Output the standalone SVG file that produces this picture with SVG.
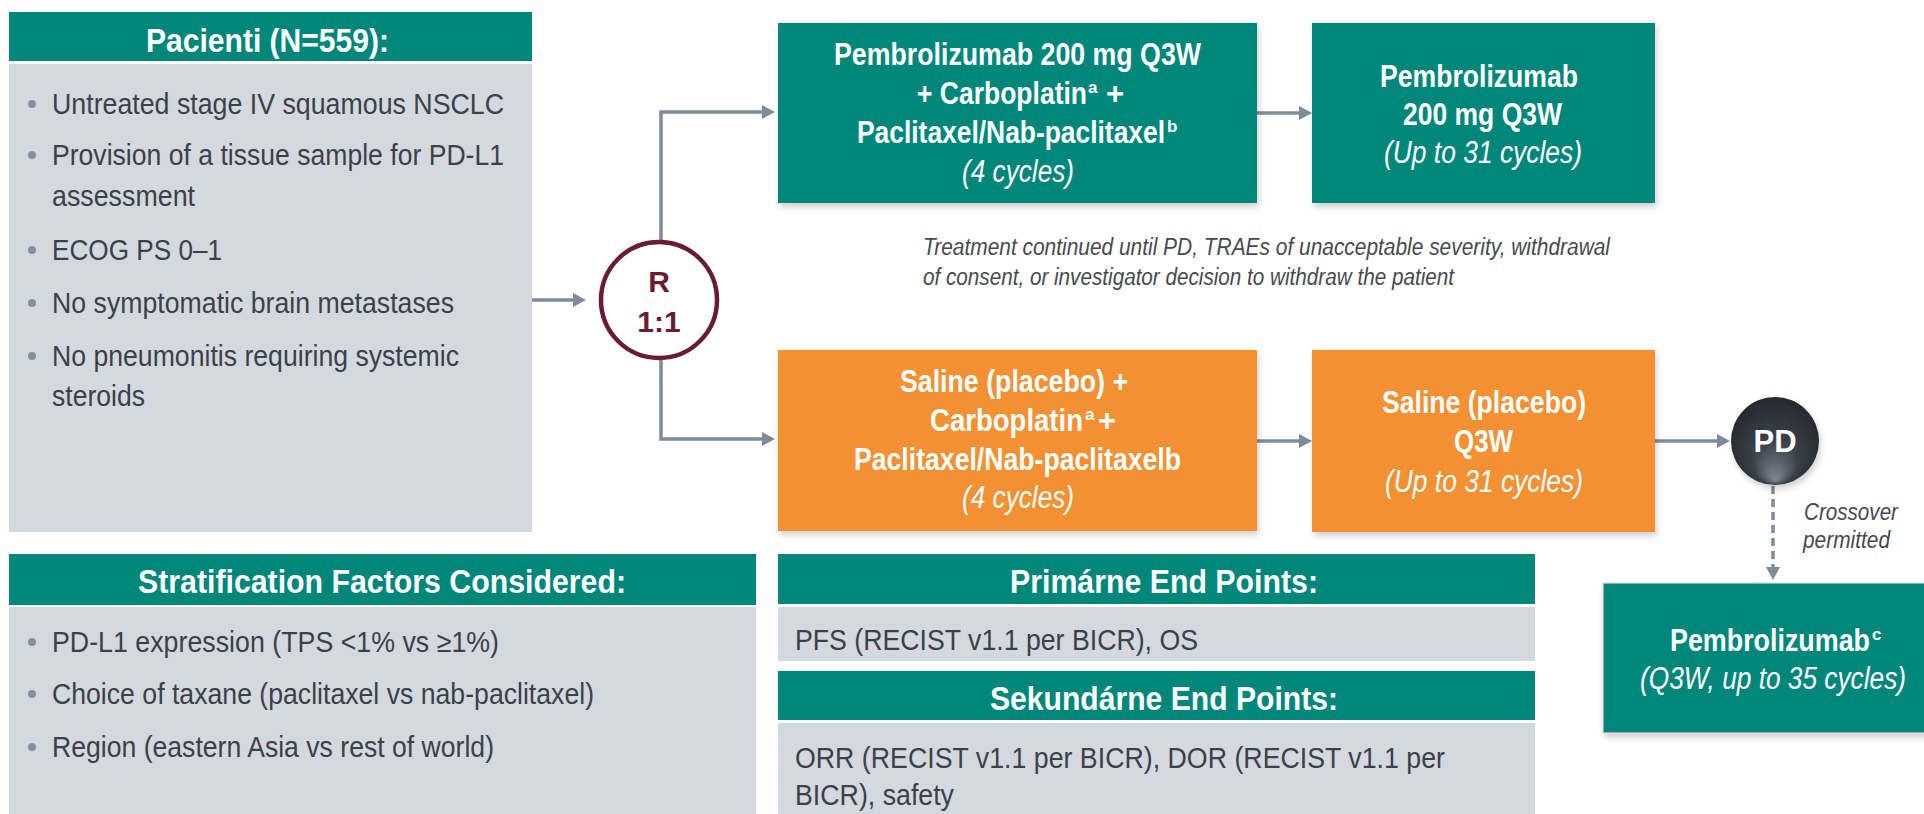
<svg xmlns="http://www.w3.org/2000/svg" width="1924" height="814" viewBox="0 0 1924 814">
  <defs>
    <style>
      text { font-family: 'Liberation Sans', Arial, sans-serif; }
      .hd { font-weight: bold; font-size: 34px; fill: #ffffff; }
      .bt { font-weight: bold; font-size: 31px; fill: #ffffff; }
      .it { font-style: italic; font-size: 31px; fill: #ffffff; }
      .sup { font-weight: bold; font-size: 17px; fill: #ffffff; }
      .body { font-size: 29px; fill: #3c4148; }
      .note { font-style: italic; font-size: 23px; fill: #454a50; }
      .rnd { font-weight: bold; font-size: 30px; fill: #6a1c36; }
      .green { fill: #00877a; }
      .orange { fill: #f39030; }
      .panel { fill: #d3d9df; }
      .dot { fill: #8490a0; }
      .conn { fill: none; stroke: #7d8c9a; stroke-width: 3.5; }
    </style>
    <marker id="arrow" markerUnits="userSpaceOnUse" markerWidth="14" markerHeight="15" refX="5" refY="7.5" orient="auto">
      <path d="M0,0.5 L13,7.5 L0,14.5 z" fill="#7d8c9a"/>
    </marker>
    <filter id="shadow" x="-5%" y="-5%" width="112%" height="120%">
      <feDropShadow dx="2" dy="4" stdDeviation="3" flood-color="#000000" flood-opacity="0.18"/>
    </filter>
    <radialGradient id="pdFill" cx="0.5" cy="0.5" r="0.55" fx="0.5" fy="0.95">
      <stop offset="0" stop-color="#7d8893"/>
      <stop offset="0.45" stop-color="#3b424a"/>
      <stop offset="1" stop-color="#23272c"/>
    </radialGradient>
  </defs>

  <rect width="1924" height="814" fill="#ffffff"/>

  <!-- Eligibility panel -->
  <g id="patients">
    <rect class="green" x="9" y="12" width="523" height="49"/>
    <rect class="panel" x="9" y="64" width="523" height="468"/>
    <text class="hd" x="146" y="52" textLength="243" lengthAdjust="spacingAndGlyphs">Pacienti (N=559):</text>
    <circle class="dot" cx="32" cy="104" r="4"/>
    <text class="body" x="52" y="114" textLength="452" lengthAdjust="spacingAndGlyphs">Untreated stage IV squamous NSCLC</text>
    <circle class="dot" cx="32" cy="155" r="4"/>
    <text class="body" x="52" y="165" textLength="452" lengthAdjust="spacingAndGlyphs">Provision of a tissue sample for PD-L1</text>
    <text class="body" x="52" y="206" textLength="143" lengthAdjust="spacingAndGlyphs">assessment</text>
    <circle class="dot" cx="32" cy="250" r="4"/>
    <text class="body" x="52" y="260" textLength="170" lengthAdjust="spacingAndGlyphs">ECOG PS 0–1</text>
    <circle class="dot" cx="32" cy="303" r="4"/>
    <text class="body" x="52" y="313" textLength="402" lengthAdjust="spacingAndGlyphs">No symptomatic brain metastases</text>
    <circle class="dot" cx="32" cy="356" r="4"/>
    <text class="body" x="52" y="366" textLength="407" lengthAdjust="spacingAndGlyphs">No pneumonitis requiring systemic</text>
    <text class="body" x="52" y="406" textLength="93" lengthAdjust="spacingAndGlyphs">steroids</text>
  </g>

  <!-- Stratification panel -->
  <g id="stratification">
    <rect class="green" x="9" y="554" width="747" height="51"/>
    <rect class="panel" x="9" y="607" width="747" height="207"/>
    <text class="hd" x="138" y="593" textLength="488" lengthAdjust="spacingAndGlyphs">Stratification Factors Considered:</text>
    <circle class="dot" cx="32" cy="642" r="4"/>
    <text class="body" x="52" y="652" textLength="447" lengthAdjust="spacingAndGlyphs">PD-L1 expression (TPS &lt;1% vs ≥1%)</text>
    <circle class="dot" cx="32" cy="694" r="4"/>
    <text class="body" x="52" y="704" textLength="542" lengthAdjust="spacingAndGlyphs">Choice of taxane (paclitaxel vs nab-paclitaxel)</text>
    <circle class="dot" cx="32" cy="747" r="4"/>
    <text class="body" x="52" y="757" textLength="442" lengthAdjust="spacingAndGlyphs">Region (eastern Asia vs rest of world)</text>
  </g>

  <!-- Primary end points -->
  <g id="primary-endpoints">
    <rect class="green" x="778" y="554" width="757" height="50"/>
    <rect class="panel" x="778" y="607" width="757" height="54"/>
    <text class="hd" x="1010" y="593" textLength="308" lengthAdjust="spacingAndGlyphs">Primárne End Points:</text>
    <text class="body" x="795" y="650" textLength="403" lengthAdjust="spacingAndGlyphs">PFS (RECIST v1.1 per BICR), OS</text>
  </g>

  <!-- Secondary end points -->
  <g id="secondary-endpoints">
    <rect class="green" x="778" y="671" width="757" height="49"/>
    <rect class="panel" x="778" y="723" width="757" height="91"/>
    <text class="hd" x="990" y="710" textLength="348" lengthAdjust="spacingAndGlyphs">Sekundárne End Points:</text>
    <text class="body" x="795" y="768" textLength="650" lengthAdjust="spacingAndGlyphs">ORR (RECIST v1.1 per BICR), DOR (RECIST v1.1 per</text>
    <text class="body" x="795" y="805" textLength="159" lengthAdjust="spacingAndGlyphs">BICR), safety</text>
  </g>

  <!-- Connectors -->
  <g id="connectors">
    <path class="conn" d="M532 300 H578" marker-end="url(#arrow)"/>
    <path class="conn" d="M661 241 V112 H767" marker-end="url(#arrow)"/>
    <path class="conn" d="M661 360 V439 H767" marker-end="url(#arrow)"/>
    <path class="conn" d="M1257 113 H1304" marker-end="url(#arrow)"/>
    <path class="conn" d="M1257 441 H1304" marker-end="url(#arrow)"/>
    <path class="conn" d="M1655 441 H1722" marker-end="url(#arrow)"/>
    <path class="conn" d="M1773 486 V572" stroke-dasharray="8 5" marker-end="url(#arrow)"/>
  </g>

  <!-- Randomisation -->
  <g id="randomisation">
    <circle cx="659" cy="300" r="58" fill="#ffffff" stroke="#6a1c36" stroke-width="4.5"/>
    <text class="rnd" x="659" y="292" text-anchor="middle">R</text>
    <text class="rnd" x="659" y="332" text-anchor="middle">1:1</text>
  </g>

  <!-- Experimental arm: induction -->
  <g id="pembro-induction" filter="url(#shadow)">
    <rect class="green" x="778" y="23" width="479" height="180"/>
  </g>
  <g id="pembro-induction-text">
    <text class="bt" x="834" y="65" textLength="367" lengthAdjust="spacingAndGlyphs">Pembrolizumab 200 mg Q3W</text>
    <text class="bt" x="917" y="104" textLength="170" lengthAdjust="spacingAndGlyphs">+ Carboplatin</text>
    <text class="sup" x="1088" y="93">a</text>
    <text class="bt" x="1106" y="104">+</text>
    <text class="bt" x="857" y="143" textLength="308" lengthAdjust="spacingAndGlyphs">Paclitaxel/Nab-paclitaxel</text>
    <text class="sup" x="1167" y="132">b</text>
    <text class="it" x="962" y="182" textLength="112" lengthAdjust="spacingAndGlyphs">(4 cycles)</text>
  </g>

  <!-- Experimental arm: maintenance -->
  <g id="pembro-maintenance" filter="url(#shadow)">
    <rect class="green" x="1312" y="23" width="343" height="180"/>
  </g>
  <g id="pembro-maintenance-text">
    <text class="bt" x="1380" y="87" textLength="198" lengthAdjust="spacingAndGlyphs">Pembrolizumab</text>
    <text class="bt" x="1403" y="125" textLength="159" lengthAdjust="spacingAndGlyphs">200 mg Q3W</text>
    <text class="it" x="1384" y="163" textLength="198" lengthAdjust="spacingAndGlyphs">(Up to 31 cycles)</text>
  </g>

  <!-- Treatment duration note -->
  <g id="duration-note">
    <text class="note" x="923" y="255" textLength="687" lengthAdjust="spacingAndGlyphs">Treatment continued until PD, TRAEs of unacceptable severity, withdrawal</text>
    <text class="note" x="923" y="285" textLength="531" lengthAdjust="spacingAndGlyphs">of consent, or investigator decision to withdraw the patient</text>
  </g>

  <!-- Control arm: induction -->
  <g id="placebo-induction" filter="url(#shadow)">
    <rect class="orange" x="778" y="350" width="479" height="181"/>
  </g>
  <g id="placebo-induction-text">
    <text class="bt" x="900" y="392" textLength="228" lengthAdjust="spacingAndGlyphs">Saline (placebo) +</text>
    <text class="bt" x="930" y="431" textLength="153" lengthAdjust="spacingAndGlyphs">Carboplatin</text>
    <text class="sup" x="1085" y="420">a</text>
    <text class="bt" x="1098" y="431">+</text>
    <text class="bt" x="854" y="470" textLength="327" lengthAdjust="spacingAndGlyphs">Paclitaxel/Nab-paclitaxelb</text>
    <text class="it" x="962" y="508" textLength="112" lengthAdjust="spacingAndGlyphs">(4 cycles)</text>
  </g>

  <!-- Control arm: maintenance -->
  <g id="placebo-maintenance" filter="url(#shadow)">
    <rect class="orange" x="1312" y="350" width="343" height="182"/>
  </g>
  <g id="placebo-maintenance-text">
    <text class="bt" x="1382" y="413" textLength="204" lengthAdjust="spacingAndGlyphs">Saline (placebo)</text>
    <text class="bt" x="1454" y="452" textLength="59" lengthAdjust="spacingAndGlyphs">Q3W</text>
    <text class="it" x="1385" y="492" textLength="198" lengthAdjust="spacingAndGlyphs">(Up to 31 cycles)</text>
  </g>

  <!-- Progression -->
  <g id="progression">
    <circle cx="1775" cy="441" r="44" fill="url(#pdFill)" filter="url(#shadow)"/>
    <text class="bt" x="1775" y="452" text-anchor="middle" font-size="30">PD</text>
  </g>

  <g id="crossover-label">
    <text class="note" x="1804" y="520" font-size="22" textLength="94" lengthAdjust="spacingAndGlyphs">Crossover</text>
    <text class="note" x="1803" y="548" font-size="22" textLength="87" lengthAdjust="spacingAndGlyphs">permitted</text>
  </g>

  <!-- Crossover treatment -->
  <g id="pembro-crossover" filter="url(#shadow)">
    <rect class="green" x="1603" y="583" width="340" height="150" stroke="#ecd3dc" stroke-width="1.2"/>
  </g>
  <g id="pembro-crossover-text">
    <text class="bt" x="1670" y="651" textLength="200" lengthAdjust="spacingAndGlyphs">Pembrolizumab</text>
    <text class="sup" x="1872" y="640">c</text>
    <text class="it" x="1640" y="689" font-size="27" textLength="266" lengthAdjust="spacingAndGlyphs">(Q3W, up to 35 cycles)</text>
  </g>
</svg>
